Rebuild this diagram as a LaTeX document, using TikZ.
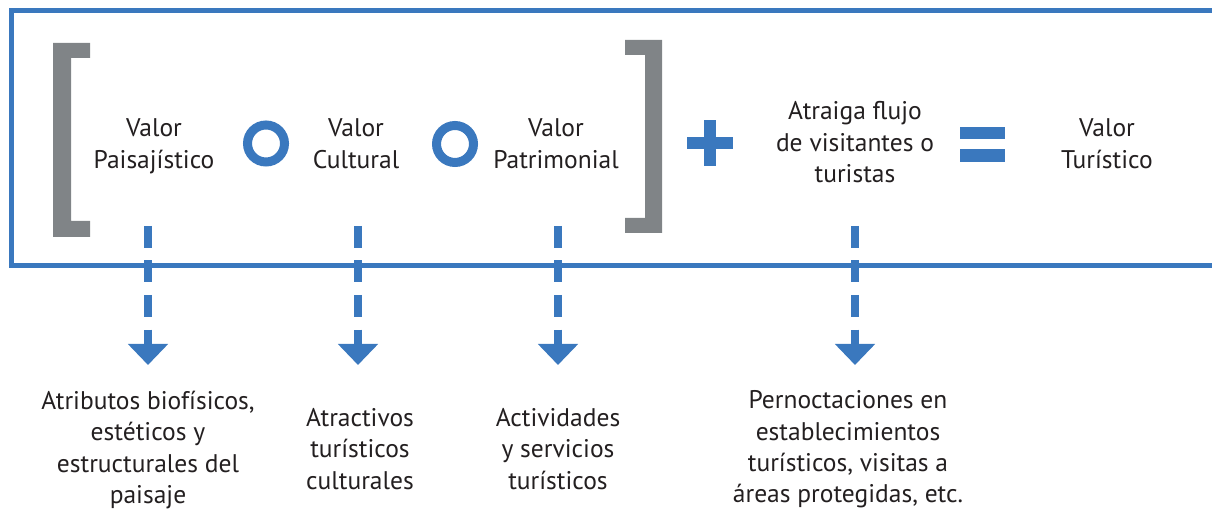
\documentclass[tikz,border=0pt]{standalone}
\usepackage{fontspec}
\setmainfont{PT Sans}
\usetikzlibrary{arrows.meta}
\definecolor{cblue}{RGB}{58,120,190}
\definecolor{cgray}{RGB}{128,132,135}
\definecolor{ctext}{RGB}{35,31,32}
\tikzset{
  lbl/.style={align=center,inner sep=0pt,text=ctext,font=\fontsize{25.6}{31.5}\selectfont},
  dasharrow/.style={draw=cblue,line width=8bp,dash pattern=on 22bp off 12.5bp,
    -{Triangle[width=39bp,length=21bp]}},
  sym/.style={fill=cblue,draw=none},
  brk/.style={fill=cgray,draw=none}
}
\newcommand{\st}{\strut}
\begin{document}
\begin{tikzpicture}[x=1bp,y=-1bp]
\useasboundingbox (0,0) rectangle (1212,510);
\clip (0,0) rectangle (1212,510);
% frame
\draw[cblue,line width=5bp] (1230,10.5) -- (11.5,10.5) -- (11.5,265.5) -- (1230,265.5);
% brackets
\path[brk] (53,43) -- (90,43) -- (90,58) -- (71,58) -- (71,221) -- (90,221) -- (90,237) -- (53,237) -- cycle;
\path[brk] (662,40) -- (625,40) -- (625,55) -- (645,55) -- (645,218) -- (625,218) -- (625,233) -- (662,233) -- cycle;
% O symbols
\draw[cblue,line width=9bp] (266,143.5) circle[radius=18.5];
\draw[cblue,line width=9bp] (455,144) circle[radius=18.5];
% plus
\path[sym] (687,137) rectangle (733,149);
\path[sym] (704,120) rectangle (716,166);
% equals
\path[sym] (960,127) rectangle (1005,139.5);
\path[sym] (960,149.5) rectangle (1005,162);
% top labels
\node[lbl] (v1) at (154,146.2) {\st Valor\\\st Paisajístico};
\node[lbl] (v2) at (356,146.2) {\st Valor\\\st Cultural};
\node[lbl] (v3) at (556,146.2) {\st Valor\\\st Patrimonial};
\node[lbl] (v4) at (855,145) {\st Atraiga flujo\\\st de visitantes o\\\st turistas};
\node[lbl] (v5) at (1107,146.2) {\st Valor\\\st Turístico};
% bottom labels
\node[lbl] (b1) at (148,450.3) {\st Atributos biofísicos,\\\st estéticos y\\\st estructurales del\\\st paisaje};
\node[lbl] (b2) at (360,451.7) {\st Atractivos\\\st turísticos\\\st culturales};
\node[lbl] (b3) at (558,451.7) {\st Actividades\\\st y servicios\\\st turísticos};
\node[lbl] (b4) at (848,449.5) {\st Pernoctaciones en\\\st establecimientos\\\st turísticos, visitas a\\\st áreas protegidas, etc.};
% arrows
\coordinate (s1) at (148,226); \coordinate (e1) at (148,365);
\coordinate (s2) at (358,226); \coordinate (e2) at (358,365);
\coordinate (s3) at (558,226); \coordinate (e3) at (558,365);
\coordinate (s4) at (855,226); \coordinate (e4) at (855,365);
\draw[dasharrow] (s1) -- (e1);
\draw[dasharrow] (s2) -- (e2);
\draw[dasharrow] (s3) -- (e3);
\draw[dasharrow] (s4) -- (e4);
\end{tikzpicture}
\end{document}
